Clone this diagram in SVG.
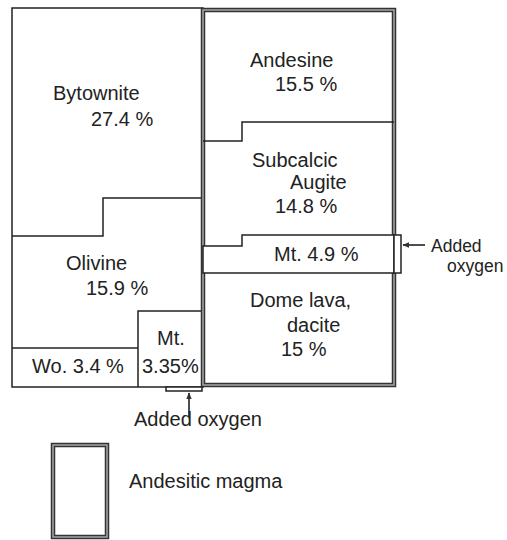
<svg xmlns="http://www.w3.org/2000/svg" width="507" height="540" viewBox="0 0 507 540">
<style>
.t{font-family:"Liberation Sans",Arial,sans-serif;font-size:20px;fill:#222}
.s{font-size:17.5px}
.thin{fill:none;stroke:#222;stroke-width:1.5}
.box{fill:#fff;stroke:#222;stroke-width:1.5}
.thickO{fill:none;stroke:#333;stroke-width:4.5}
.thickI{fill:none;stroke:#a0a0a0;stroke-width:1.6}
.conn{fill:none;stroke:#222;stroke-width:1.6}
</style>
<defs>
<marker id="ah" viewBox="0 0 10 10" refX="9" refY="5" markerWidth="7" markerHeight="7" orient="auto" markerUnits="userSpaceOnUse">
<path d="M0,1 L10,5 L0,9 Z" fill="#333"/>
</marker>
</defs>
<rect width="507" height="540" fill="#fff"/>
<g id="left-block">
<rect class="thin" x="12" y="8" width="191" height="379"/>
</g>
<g id="bytownite">
<path class="thin" d="M12,236 H103 V198 H203"/>
<text class="t" x="53" y="100">Bytownite</text>
<text class="t" x="91" y="126">27.4 %</text>
</g>
<g id="olivine">
<text class="t" x="66" y="270">Olivine</text>
<text class="t" x="86" y="295">15.9 %</text>
</g>
<g id="wollastonite">
<path class="thin" d="M12,348 H138"/>
<text class="t" x="32" y="373">Wo. 3.4 %</text>
</g>
<g id="magnetite-left">
<path class="thin" d="M138,387 V311 H203"/>
<text class="t" x="157" y="345">Mt.</text>
<text class="t" x="142" y="373">3.35%</text>
</g>
<g id="andesitic-magma">
<rect class="thickO" x="203" y="10" width="191" height="375"/>
<rect class="thickI" x="203" y="10" width="191" height="375"/>
</g>
<g id="andesine">
<path class="thin" d="M203,141 H242 V122 H394"/>
<text class="t" x="250" y="67">Andesine</text>
<text class="t" x="275" y="91">15.5 %</text>
</g>
<g id="augite">
<text class="t" x="252" y="167">Subcalcic</text>
<text class="t" x="290" y="189">Augite</text>
<text class="t" x="275" y="213">14.8 %</text>
</g>
<g id="magnetite-right">
<path class="box" d="M203,246 H242 V235 H394 V273 H203 Z"/>
<rect class="box" x="394" y="235" width="7" height="38"/>
<text class="t" x="274" y="261">Mt. 4.9 %</text>
</g>
<g id="dacite">
<text class="t" x="250" y="307">Dome lava,</text>
<text class="t" x="287" y="332">dacite</text>
<text class="t" x="281" y="356">15 %</text>
</g>
<g id="oxygen-bottom">
<rect class="box" x="166" y="387" width="36" height="4"/>
</g>
<g id="connectors">
<path class="conn" d="M189,417 V393" marker-end="url(#ah)"/>
<path class="conn" d="M425,245 H403" marker-end="url(#ah)"/>
</g>
<g id="label-oxygen-bottom">
<text class="t" x="134" y="426">Added oxygen</text>
</g>
<g id="label-oxygen-right">
<text class="t s" x="431" y="252">Added</text>
<text class="t s" x="447" y="272">oxygen</text>
</g>
<g id="legend">
<rect class="thickO" x="53" y="445" width="54" height="92"/>
<rect class="thickI" x="53" y="445" width="54" height="92"/>
<text class="t" x="129" y="488">Andesitic magma</text>
</g>
</svg>
